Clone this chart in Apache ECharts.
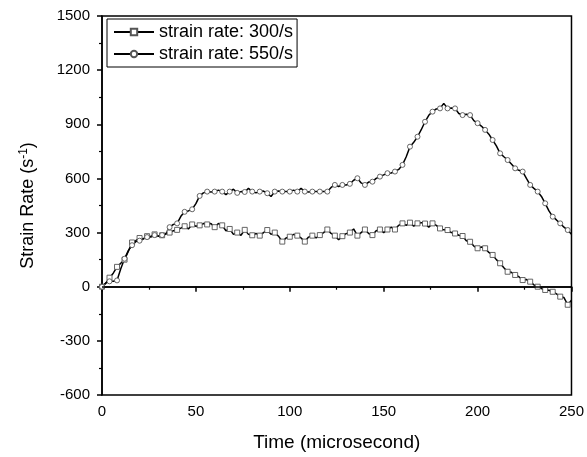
<!DOCTYPE html>
<html><head><meta charset="utf-8">
<script src="https://cdn.jsdelivr.net/npm/echarts@6/dist/echarts.min.js"></script>
<style>html,body{margin:0;padding:0;background:#fff}#c{width:587px;height:457px}</style>
</head><body><div id="c"></div>
<script>
const seriesNames = ['strain rate: 300/s', 'strain rate: 550/s'];
const timeStep = 2; // microseconds between samples, from 0 to 250
const xTicks = [0, 50, 100, 150, 200, 250];
const yTicks = [-600, -300, 0, 300, 600, 900, 1200, 1500];
const rate300 = [0,20,50,75,110,130,150,195,245,255,270,265,280,275,290,280,285,295,300,310,
  315,325,335,320,345,335,340,350,345,350,330,350,340,310,320,290,300,285,315,290,
  285,295,283,300,314,290,300,280,250,270,277,290,283,270,250,275,283,270,286,300,
  317,295,283,260,280,294,300,320,283,300,317,295,286,310,317,300,317,330,317,340,
  351,340,355,335,351,355,350,330,351,340,323,315,314,300,295,285,281,255,249,225,
  213,220,213,190,176,150,130,105,83,80,65,55,37,40,28,10,0,-10,-18,-20,
  -28,-40,-55,-60,-100,-75];
const rate550 = [0,20,30,30,35,100,155,200,230,250,255,265,275,280,286,280,286,290,330,345,
  351,390,415,420,429,460,503,520,527,525,527,535,527,510,527,540,520,527,525,545,
  527,520,527,530,518,500,527,530,527,527,527,535,527,545,527,525,527,527,527,527,
  527,550,564,555,564,564,570,590,601,575,564,580,582,600,610,620,629,630,638,650,
  675,720,776,800,831,870,914,950,970,985,988,1016,988,990,988,960,951,955,951,920,
  906,890,869,845,813,780,739,720,702,680,656,645,638,600,564,545,527,500,462,420,
  388,370,351,330,314,290];

function build(vals, sym) {
  return vals.map((v, i) => ({ value: [i * timeStep, v], symbol: i % 2 === 0 ? sym : 'none' }));
}
const font = 'Liberation Sans, Arial, sans-serif';
const chart = echarts.init(document.getElementById('c'), null, { renderer: 'canvas' });
const lineStyle = { color: '#000', width: 1.5 };
const itemStyle = { color: '#fff', borderColor: '#555', borderWidth: 0.9 };
chart.setOption({
  animation: false,
  backgroundColor: '#fff',
  grid: { left: 102, right: 14, top: 16, bottom: 62, show: true, borderColor: '#000', borderWidth: 1.5, backgroundColor: 'transparent' },
  legend: {
    orient: 'vertical', left: 107, top: 19, itemWidth: 40, itemHeight: 8, itemGap: 4,
    padding: [4, 4, 4, 6], borderColor: '#000', borderWidth: 1,
    textStyle: { fontFamily: font, fontSize: 18, color: '#000' },
    data: seriesNames
  },
  xAxis: {
    type: 'value', min: xTicks[0], max: xTicks[xTicks.length - 1], interval: 50,
    name: 'Time (microsecond)', nameLocation: 'middle', nameGap: 38,
    nameTextStyle: { fontFamily: font, fontSize: 19, color: '#000' },
    axisLine: { lineStyle: { color: '#000', width: 1.5 } },
    axisTick: { inside: false, length: 5, lineStyle: { color: '#000', width: 1.5 } },
    minorTick: { show: true, splitNumber: 2, length: 3, lineStyle: { color: '#000', width: 1.2 } },
    axisLabel: { fontFamily: font, fontSize: 15, color: '#000', margin: 9 },
    splitLine: { show: false }
  },
  yAxis: {
    type: 'value', min: yTicks[0], max: yTicks[yTicks.length - 1], interval: 300,
    name: '{a|Strain Rate (s}{b|-1}{a|)}', nameLocation: 'middle', nameGap: 64, nameRotate: 90,
    nameTextStyle: { rich: { a: { fontFamily: font, fontSize: 18, color: '#000' }, b: { fontFamily: font, fontSize: 12, color: '#000', verticalAlign: 'top', padding: [0, 0, 8, 0] } } },
    axisLine: { lineStyle: { color: '#000', width: 1.5 } },
    axisTick: { inside: false, length: 5, lineStyle: { color: '#000', width: 1.5 } },
    minorTick: { show: true, splitNumber: 2, length: 3, lineStyle: { color: '#000', width: 1.2 } },
    axisLabel: { fontFamily: font, fontSize: 15, color: '#000', margin: 12, formatter: v => String(v) },
    splitLine: { show: false }
  },
  series: [
    {
      name: seriesNames[0], type: 'line', data: build(rate300, 'rect'),
      symbol: 'rect', symbolSize: 5, showAllSymbol: true, lineStyle, itemStyle,
      markLine: { silent: true, symbol: 'none', label: { show: false }, lineStyle: { color: '#000', type: 'solid', width: 1.5 }, data: [{ yAxis: 0 }] },
      z: 3
    },
    {
      name: seriesNames[1], type: 'line', data: build(rate550, 'circle'),
      symbol: 'circle', symbolSize: 5, showAllSymbol: true, lineStyle, itemStyle, z: 3
    }
  ]
});
</script></body></html>
